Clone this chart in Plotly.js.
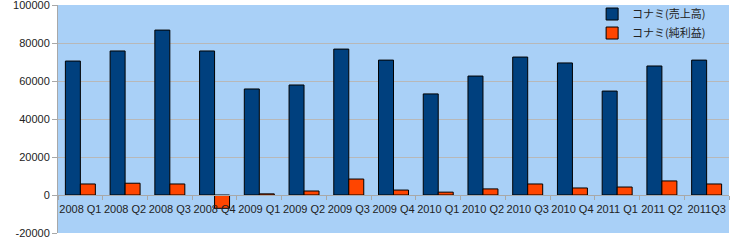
<!DOCTYPE html>
<html>
<head>
<meta charset="utf-8">
<script src="https://cdn.plot.ly/plotly-3.0.1.min.js"></script>
<style>
html,body{margin:0;padding:0;background:#fff;}
#chart{width:732px;height:240px;}
</style>
</head>
<body>
<div id="chart"></div>
<script>
var categories = ["2008 Q1","2008 Q2","2008 Q3","2008 Q4",
                  "2009 Q1","2009 Q2","2009 Q3","2009 Q4",
                  "2010 Q1","2010 Q2","2010 Q3","2010 Q4",
                  "2011 Q1","2011 Q2","2011Q3"];
var seriesNames = ["コナミ(売上高)", "コナミ(純利益)"];
var sales     = [70500, 75800, 86800, 75800, 55800, 57900, 76800, 71000, 53200, 62600, 72600, 69500, 54700, 67900, 71000];
var netIncome = [5800, 6200, 5800, -7000, 600, 2100, 8400, 2600, 1500, 3200, 5800, 3700, 4200, 7400, 5800];
var yTickVals   = [-20000, 0, 20000, 40000, 60000, 80000, 100000];
var yTickLabels = ["-20000", "0", "20000", "40000", "60000", "80000", "100000"];

var font = "Liberation Sans, Arial, Noto Sans CJK JP, sans-serif";
var data = [
  {type:"bar", name:seriesNames[0], x:categories, y:sales,
   marker:{color:"#00407e", line:{color:"#000", width:1}}},
  {type:"bar", name:seriesNames[1], x:categories, y:netIncome,
   marker:{color:"#ff4500", line:{color:"#000", width:1}}}
];
var layout = {
  width:732, height:240,
  margin:{l:58, r:3, t:5, b:7, autoexpand:false},
  paper_bgcolor:"#ffffff",
  plot_bgcolor:"#a9d0f7",
  barmode:"group", bargap:0.33, bargroupgap:0,
  font:{family:font, size:11, color:"#222"},
  showlegend:true,
  legend:{x:0.796, y:1.024, xanchor:"left", yanchor:"top", bgcolor:"rgba(0,0,0,0)",
          font:{family:"Noto Sans CJK JP, sans-serif", size:11, color:"#222"}, tracegroupgap:0},
  xaxis:{type:"category", anchor:"free", position:1/6, showline:true, linecolor:"#a8a8a8", linewidth:1,
         showgrid:false, ticks:"outside", tickson:"boundaries", ticklen:4, tickcolor:"#a8a8a8",
         ticklabelstandoff:4, tickangle:0, tickfont:{family:font, size:11, color:"#222"}},
  yaxis:{range:[-20000,100000], tickvals:yTickVals, ticktext:yTickLabels, showline:true,
         linecolor:"#a8a8a8", linewidth:1, showgrid:true, gridcolor:"#b8b8b8", zeroline:false,
         ticks:"outside", ticklen:5, tickcolor:"#a8a8a8", ticklabeloverflow:"allow",
         tickfont:{family:font, size:11, color:"#222"}}
};
Plotly.newPlot("chart", data, layout, {displayModeBar:false, staticPlot:true});
</script>
</body>
</html>
